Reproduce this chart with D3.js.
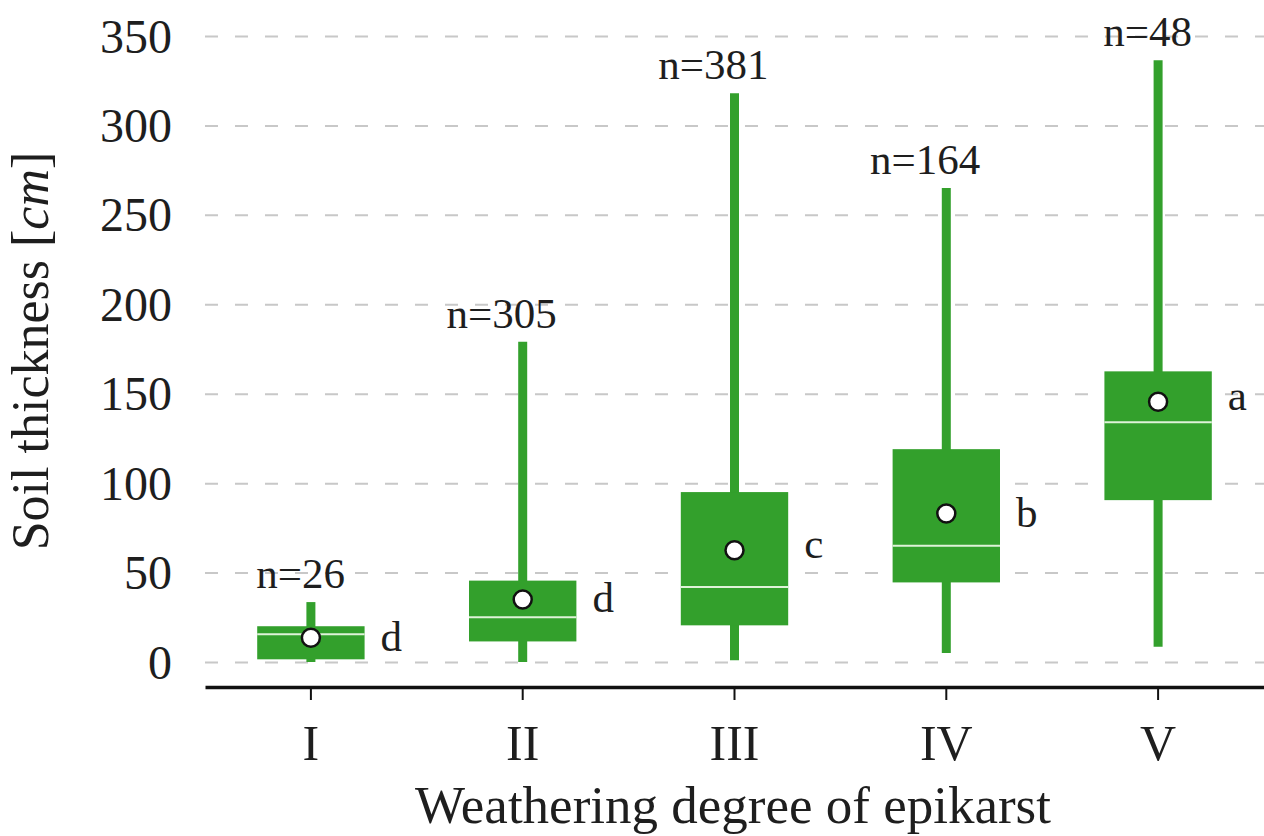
<!DOCTYPE html>
<html>
<head>
<meta charset="utf-8">
<script src="https://cdn.jsdelivr.net/npm/d3@7"></script>
<style>
  html, body { margin: 0; padding: 0; background: #fff; }
  svg { display: block; }
  text { font-family: "Liberation Serif", "DejaVu Serif", serif; fill: #1e1e1e; }
</style>
</head>
<body>
<div id="chart"></div>
<script>
// ── data ──
const categories  = ["I", "II", "III", "IV", "V"];
const whiskerLow  = [0, 0, 1, 5, 8.5];
const q1          = [1.5, 11.5, 20.5, 44.5, 90.5];
const median      = [15.5, 25, 42, 65, 134];
const q3          = [20, 45.5, 95, 119, 162.5];
const whiskerHigh = [33.5, 179, 318, 265, 336.5];
const means       = [13.5, 35, 62.5, 83, 145.5];
const counts      = [26, 305, 381, 164, 48];
const groups      = ["d", "d", "c", "b", "a"];
const yTicks      = [0, 50, 100, 150, 200, 250, 300, 350];

const width = 1264, height = 836;
const green = "#33a02c";

const rows = categories.map((c, i) => ({
  cat: c, lo: whiskerLow[i], q1: q1[i], med: median[i], q3: q3[i],
  hi: whiskerHigh[i], mean: means[i], n: counts[i], grp: groups[i]
}));

const svg = d3.select("#chart").append("svg")
  .attr("width", width)
  .attr("height", height);

const x = d3.scaleBand().domain(categories).range([205, 1264]);
const y = d3.scaleLinear().domain([0, 350]).range([662, 36]);
const cx = (d) => x(d.cat) + x.bandwidth() / 2;
const boxW = x.bandwidth() * 0.507;

// ── y axis: dashed grid + labels ──
const yAxis = svg.append("g")
  .attr("transform", "translate(205,0)")
  .call(d3.axisLeft(y).tickValues(yTicks).tickSizeInner(-(1264 - 205)).tickSizeOuter(0).tickPadding(33));
yAxis.select(".domain").remove();
yAxis.selectAll(".tick line")
  .attr("stroke", "#c8c8c8")
  .attr("stroke-width", 2)
  .attr("stroke-dasharray", "13 17");
yAxis.selectAll(".tick text")
  .attr("dy", 16)
  .attr("font-size", 48)
  .attr("fill", "#1e1e1e");

// ── whiskers ──
svg.append("g").selectAll("line")
  .data(rows)
  .join("line")
  .attr("x1", cx).attr("x2", cx)
  .attr("y1", (d) => y(d.lo)).attr("y2", (d) => y(d.hi))
  .attr("stroke", green)
  .attr("stroke-width", 9);

// ── boxes ──
svg.append("g").selectAll("rect")
  .data(rows)
  .join("rect")
  .attr("x", (d) => cx(d) - boxW / 2)
  .attr("width", boxW)
  .attr("y", (d) => y(d.q3))
  .attr("height", (d) => y(d.q1) - y(d.q3))
  .attr("fill", green);

// ── medians ──
svg.append("g").selectAll("line")
  .data(rows)
  .join("line")
  .attr("x1", (d) => cx(d) - boxW / 2).attr("x2", (d) => cx(d) + boxW / 2)
  .attr("y1", (d) => y(d.med)).attr("y2", (d) => y(d.med))
  .attr("stroke", "#dff3d8")
  .attr("stroke-width", 2);

// ── means ──
svg.append("g").selectAll("circle")
  .data(rows)
  .join("circle")
  .attr("cx", cx)
  .attr("cy", (d) => y(d.mean))
  .attr("r", 9)
  .attr("fill", "#fff")
  .attr("stroke", "#111")
  .attr("stroke-width", 2.5);

// ── n= labels above whiskers ──
svg.append("g").selectAll("text")
  .data(rows)
  .join("text")
  .attr("x", (d) => cx(d) + 34)
  .attr("y", (d) => y(d.hi) - 14)
  .attr("text-anchor", "end")
  .attr("font-size", 43)
  .text((d) => `n=${d.n}`);

// ── group letters next to boxes ──
const tall = (s) => /[bdfhklt]/.test(s);
svg.append("g").selectAll("text")
  .data(rows)
  .join("text")
  .attr("x", (d) => cx(d) + boxW / 2 + 16)
  .attr("y", (d) => y(d.mean) + (tall(d.grp) ? 13 : 8))
  .attr("font-size", 43)
  .text((d) => d.grp);

// ── x axis ──
const xAxis = svg.append("g")
  .attr("transform", "translate(0,687)")
  .call(d3.axisBottom(x).tickSizeInner(13).tickSizeOuter(0));
xAxis.select(".domain")
  .attr("stroke", "#111")
  .attr("stroke-width", 3.3);
xAxis.selectAll(".tick line")
  .attr("stroke", "#111")
  .attr("stroke-width", 2);
xAxis.selectAll(".tick text")
  .attr("y", 73)
  .attr("dy", 0)
  .attr("font-size", 50)
  .attr("fill", "#1e1e1e");

// ── axis titles ──
svg.append("text")
  .attr("x", 733)
  .attr("y", 823)
  .attr("text-anchor", "middle")
  .attr("font-size", 53)
  .text("Weathering degree of epikarst");

const yTitle = svg.append("text")
  .attr("transform", "translate(48,351) rotate(-90)")
  .attr("text-anchor", "middle")
  .attr("font-size", 52);
yTitle.append("tspan").text("Soil thickness [");
yTitle.append("tspan").attr("font-style", "italic").text("cm");
yTitle.append("tspan").text("]");
</script>
</body>
</html>
